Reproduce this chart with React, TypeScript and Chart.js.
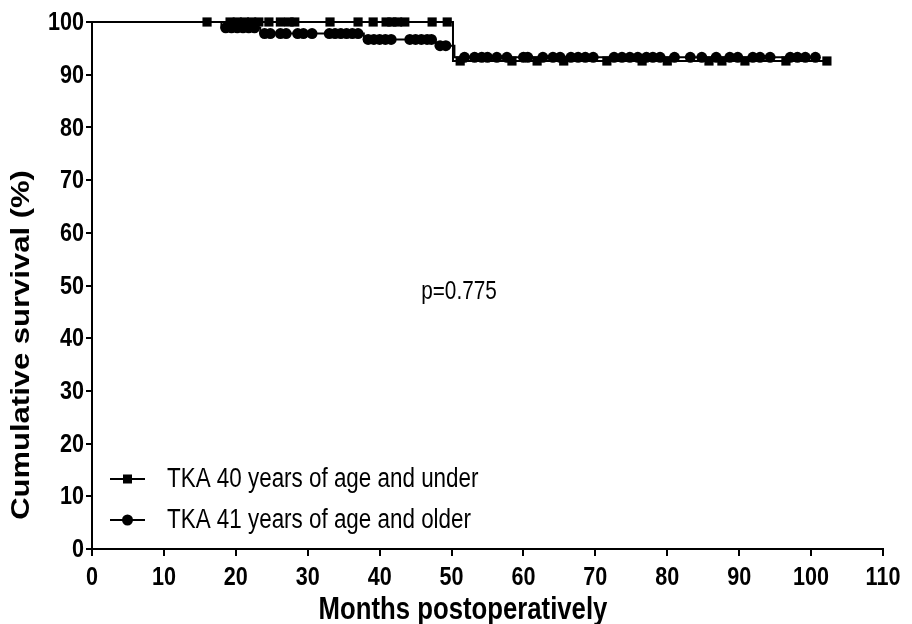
import React, { useEffect, useRef } from "react";
import { Chart, registerables } from "chart.js";

Chart.register(...registerables);

const xTickValues = [0, 10, 20, 30, 40, 50, 60, 70, 80, 90, 100, 110];
const yTickValues = [0, 10, 20, 30, 40, 50, 60, 70, 80, 90, 100];
const seriesNames = ["TKA 40 years of age and under", "TKA 41 years of age and older"];
const xTitle = "Months postoperatively";
const yTitle = "Cumulative survival (%)";
const pValueText = "p=0.775";

// KM step curve (event times and survival after the event), group ≤40 years
const under40StepMonths = [0, 50.2];
const under40StepSurvival = [100, 92.6];
const under40CensorMonths = [
  16.0, 19.2, 20.2, 21.2, 22.2, 23.2, 24.6, 26.2, 27.4, 28.2, 33.1, 37.0, 39.1, 40.9, 41.7, 42.5, 43.5, 47.3,
  49.4, 51.2, 58.4, 61.9, 65.6, 71.6, 76.5, 80.0, 85.8, 87.6, 90.8, 96.5, 102.2,
];

// group ≥41 years
const over41StepMonths = [0, 18.0, 23.4, 37.8, 47.8, 50.4];
const over41StepSurvival = [100, 98.9, 97.8, 96.7, 95.5, 93.3];
const over41CensorMonths = [
  18.6, 19.4, 20.2, 21.0, 21.8, 22.6, 24.0, 24.8, 26.2, 27.0, 28.6, 29.4, 30.6, 33.0, 33.8, 34.6, 35.4, 36.2,
  37.0, 38.4, 39.2, 40.0, 40.8, 41.6, 44.2, 45.0, 45.8, 46.6, 47.2, 48.4, 49.2, 51.8, 53.2, 54.2, 55.0, 56.3,
  57.7, 60.0, 60.6, 62.7, 64.1, 65.1, 66.6, 67.6, 68.6, 69.7, 72.6, 73.7, 74.8, 75.9, 77.1, 78.0, 79.0, 81.0,
  83.2, 84.8, 86.8, 88.7, 89.8, 91.9, 92.9, 94.3, 97.1, 98.1, 99.2, 100.6,
];

const FONT = "'Liberation Sans', Arial, Helvetica, sans-serif";
const SQUEEZE = 0.83;

function survivalAt(months: number[], surv: number[], t: number) {
  let v = surv[0];
  for (let i = 0; i < months.length; i++) if (months[i] <= t) v = surv[i];
  return v;
}

function curvePoints(months: number[], surv: number[], censors: number[]) {
  const pts = months.map((m, i) => ({ x: m, y: surv[i] }));
  const last = Math.max(...censors);
  pts.push({ x: last, y: survivalAt(months, surv, last) });
  return pts;
}

function censorPoints(months: number[], surv: number[], censors: number[]) {
  return censors.map((c) => ({ x: c, y: survivalAt(months, surv, c) }));
}

function squeezedText(ctx: CanvasRenderingContext2D, text: string, x: number, y: number, align: CanvasTextAlign) {
  ctx.save();
  ctx.translate(x, y);
  ctx.scale(SQUEEZE, 1);
  ctx.textAlign = align;
  ctx.textBaseline = "middle";
  ctx.fillText(text, 0, 0);
  ctx.restore();
}

const overlayPlugin = {
  id: "kmOverlay",
  afterDraw(chart: any) {
    const { ctx, chartArea } = chart;
    const xs = chart.scales.x;
    const ys = chart.scales.y;
    ctx.save();
    ctx.fillStyle = "#000";
    ctx.strokeStyle = "#000";
    // tick labels
    ctx.font = `bold 26px ${FONT}`;
    xTickValues.forEach((v) => squeezedText(ctx, String(v), xs.getPixelForValue(v), chartArea.bottom + 29, "center"));
    yTickValues.forEach((v) => squeezedText(ctx, String(v), chartArea.left - 8, ys.getPixelForValue(v) + 1, "right"));
    // axis titles
    ctx.font = `bold 31px ${FONT}`;
    squeezedText(ctx, xTitle, chartArea.left + 371, chartArea.bottom + 61, "center");
    ctx.save();
    ctx.translate(22, chartArea.top + 323);
    ctx.rotate(-Math.PI / 2);
    ctx.scale(1, SQUEEZE);
    ctx.textAlign = "center";
    ctx.textBaseline = "middle";
    ctx.fillText(yTitle, 0, 0);
    ctx.restore();
    // p value
    ctx.font = `25px ${FONT}`;
    squeezedText(ctx, pValueText, chartArea.left + 367, chartArea.top + 270, "center");
    // legend
    const lx0 = chartArea.left + 18;
    const lx1 = chartArea.left + 53;
    const mx = (lx0 + lx1) / 2;
    const rows = [chartArea.bottom - 70, chartArea.bottom - 29];
    ctx.font = `27px ${FONT}`;
    rows.forEach((ry, i) => {
      ctx.lineWidth = 2;
      ctx.beginPath();
      ctx.moveTo(lx0, ry);
      ctx.lineTo(lx1, ry);
      ctx.stroke();
      if (i === 0) {
        ctx.fillRect(mx - 4.5, ry - 4.5, 9, 9);
      } else {
        ctx.beginPath();
        ctx.arc(mx, ry, 5.5, 0, Math.PI * 2);
        ctx.fill();
      }
      squeezedText(ctx, seriesNames[i], chartArea.left + 75, ry + 1, "left");
    });
    ctx.restore();
  },
};

export default function App() {
  const ref = useRef<HTMLCanvasElement | null>(null);
  useEffect(() => {
    document.body.style.margin = "0";
    const canvas = ref.current;
    if (!canvas) return;
    const chart = new Chart(canvas, {
      type: "line",
      data: {
        datasets: [
          {
            label: seriesNames[0],
            data: curvePoints(under40StepMonths, under40StepSurvival, under40CensorMonths),
            borderColor: "#000",
            borderWidth: 2,
            stepped: "before",
            pointRadius: 0,
            clip: false as any,
          },
          {
            label: seriesNames[1],
            data: curvePoints(over41StepMonths, over41StepSurvival, over41CensorMonths),
            borderColor: "#000",
            borderWidth: 2,
            stepped: "before",
            pointRadius: 0,
            clip: false as any,
          },
          {
            label: seriesNames[0] + " censored",
            data: censorPoints(under40StepMonths, under40StepSurvival, under40CensorMonths),
            showLine: false,
            pointStyle: "rect",
            pointRadius: 6.5,
            backgroundColor: "#000",
            borderColor: "#000",
            borderWidth: 0,
            clip: false as any,
          },
          {
            label: seriesNames[1] + " censored",
            data: censorPoints(over41StepMonths, over41StepSurvival, over41CensorMonths),
            showLine: false,
            pointStyle: "circle",
            pointRadius: 5.5,
            backgroundColor: "#000",
            borderColor: "#000",
            borderWidth: 0,
            clip: false as any,
          },
        ],
      },
      options: {
        animation: false,
        responsive: false,
        maintainAspectRatio: false,
        layout: { padding: { top: 22, right: 29, bottom: 0, left: 0 } },
        plugins: { legend: { display: false }, tooltip: { enabled: false } },
        scales: {
          x: {
            type: "linear",
            min: 0,
            max: 110,
            afterBuildTicks: (s: any) => {
              s.ticks = xTickValues.map((v) => ({ value: v }));
            },
            afterFit: (s: any) => {
              s.height = 75;
            },
            ticks: { display: false },
            grid: { drawOnChartArea: false, drawTicks: true, tickLength: 7, color: "#000", lineWidth: 2 },
            border: { display: true, color: "#000", width: 2 },
            title: { display: false, text: xTitle },
          },
          y: {
            type: "linear",
            min: 0,
            max: 100,
            afterBuildTicks: (s: any) => {
              s.ticks = yTickValues.map((v) => ({ value: v }));
            },
            afterFit: (s: any) => {
              s.width = 92;
            },
            ticks: { display: false },
            grid: { drawOnChartArea: false, drawTicks: true, tickLength: 6, color: "#000", lineWidth: 2 },
            border: { display: true, color: "#000", width: 2 },
            title: { display: false, text: yTitle },
          },
        },
      },
      plugins: [overlayPlugin],
    } as any);
    return () => chart.destroy();
  }, []);
  return (
    <div style={{ width: 912, height: 624, position: "relative", background: "#fff" }}>
      <canvas ref={ref} width={912} height={624} style={{ display: "block", width: 912, height: 624 }} />
    </div>
  );
}
